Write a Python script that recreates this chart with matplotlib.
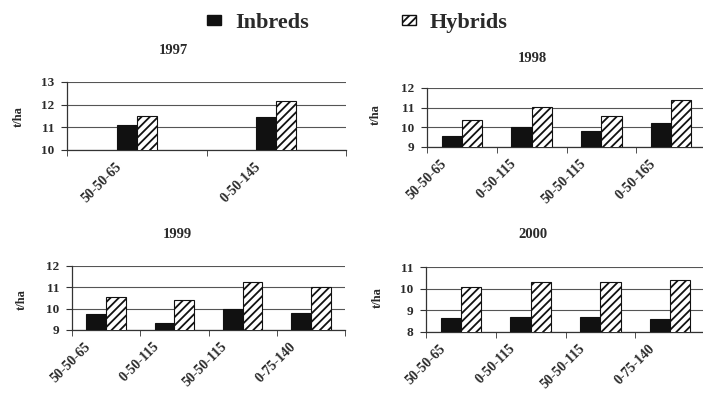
import matplotlib
matplotlib.use("Agg")
import matplotlib.pyplot as plt
import matplotlib.transforms as mtransforms
from matplotlib.patches import Patch
import numpy as np

# Grain yield (t/ha) by N-P-K treatment, inbreds vs hybrids
treat_1997 = ["50-50-65", "0-50-145"]
inbred_1997 = [11.1, 11.46]
hybrid_1997 = [11.51, 12.18]

treat_1998 = ["50-50-65", "0-50-115", "50-50-115", "0-50-165"]
inbred_1998 = [9.54, 10.0, 9.83, 10.24]
hybrid_1998 = [10.37, 11.05, 10.58, 11.4]

treat_1999 = ["50-50-65", "0-50-115", "50-50-115", "0-75-140"]
inbred_1999 = [9.73, 9.34, 10.0, 9.82]
hybrid_1999 = [10.53, 10.4, 11.27, 11.03]

treat_2000 = ["50-50-65", "0-50-115", "50-50-115", "0-75-140"]
inbred_2000 = [8.65, 8.7, 8.7, 8.62]
hybrid_2000 = [10.08, 10.3, 10.32, 10.38]

plt.rcParams["font.family"] = ["Liberation Serif", "DejaVu Serif"]
plt.rcParams["font.weight"] = "bold"
plt.rcParams["hatch.linewidth"] = 1.3
plt.rcParams["hatch.color"] = "#111111"

TXT = "#2a2a2a"
W, H = 703, 394

fig = plt.figure(figsize=(7.03, 3.94), dpi=100)


def px_axes(left, top, right, bottom):
    """Create axes from pixel box (origin top-left)."""
    return fig.add_axes([left / W, 1 - bottom / H, (right - left) / W, (bottom - top) / H])


def draw_panel(ax, cats, inbred, hybrid, ylim, width):
    x = np.arange(len(cats))
    ax.bar(x - width / 2, inbred, width, color="#111111",
           edgecolor="#111111", linewidth=0.8, zorder=3)
    ax.bar(x + width / 2, hybrid, width, color="white", hatch="////",
           edgecolor="#111111", linewidth=0.8, zorder=3)
    ax.set_ylim(*ylim)
    ax.set_xlim(-0.5, len(cats) - 0.5)
    ax.set_yticks(np.arange(ylim[0], ylim[1] + 1))
    ax.yaxis.grid(True, color="#555555", linewidth=0.8, zorder=0)
    ax.set_axisbelow(True)
    for s in ["top", "right"]:
        ax.spines[s].set_visible(False)
    for s in ["left", "bottom"]:
        ax.spines[s].set_color("#333333")
        ax.spines[s].set_linewidth(0.9)
    ax.set_xticks(x)
    ax.set_xticks(np.arange(-0.5, len(cats)), minor=True)
    ax.set_xticklabels(cats, rotation=45, ha="right", va="top",
                       rotation_mode="anchor", fontsize=10, color=TXT)
    ax.tick_params(axis="x", which="major", length=0, pad=7)
    ax.tick_params(axis="x", which="minor", length=4, direction="out", color="#333333")
    ax.tick_params(axis="y", length=4, direction="out", pad=5, labelsize=9.5,
                   labelcolor=TXT, color="#333333")
    offset = mtransforms.ScaledTranslation(-0.22, 0, fig.dpi_scale_trans)
    for lbl in ax.get_xticklabels():
        lbl.set_transform(lbl.get_transform() + offset)
    ax.patch.set_alpha(0)


ax97 = px_axes(67, 82, 346, 150)
draw_panel(ax97, treat_1997, inbred_1997, hybrid_1997, (10, 13), 0.145)
ax98 = px_axes(427, 88, 706, 147)
draw_panel(ax98, treat_1998, inbred_1998, hybrid_1998, (9, 12), 0.29)
ax99 = px_axes(72, 266, 345, 330)
draw_panel(ax99, treat_1999, inbred_1999, hybrid_1999, (9, 12), 0.29)
ax00 = px_axes(426, 267, 705, 332)
draw_panel(ax00, treat_2000, inbred_2000, hybrid_2000, (8, 11), 0.29)

# panel titles and y labels
for label, cx, cy in [("1997", 173, 51), ("1998", 532, 58), ("1999", 177, 235), ("2000", 533, 235)]:
    fig.text(cx / W, 1 - cy / H, label, ha="center", va="center", fontsize=10.5, color=TXT)
for cx, cy in [(19, 117), (376, 115), (22, 300), (378, 298)]:
    fig.text(cx / W, 1 - cy / H, "t/ha", ha="center", va="center", rotation=90,
             fontsize=9, color=TXT)

handles = [Patch(facecolor="#111111", edgecolor="#111111"),
           Patch(facecolor="white", edgecolor="#111111", hatch="////")]
fig.legend(handles, ["Inbreds", "Hybrids"], ncol=2, frameon=False,
           loc="upper left", bbox_to_anchor=(207 / W, 1 - 13 / H),
           borderpad=0, borderaxespad=0, fontsize=16,
           handlelength=0.63, handleheight=0.3, handletextpad=0.63,
           columnspacing=4.2, labelcolor=TXT)

fig.savefig("out.png", dpi=100, facecolor="white")
